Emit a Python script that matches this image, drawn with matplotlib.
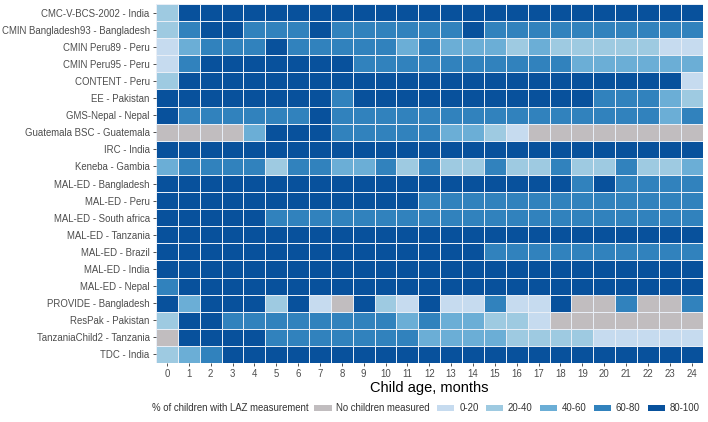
import matplotlib
matplotlib.use("Agg")
import matplotlib.pyplot as plt
import numpy as np
from matplotlib.colors import ListedColormap, BoundaryNorm
from matplotlib.patches import Patch

plt.rcParams['font.family'] = ['Liberation Sans', 'DejaVu Sans']

studies = [
    "CMC-V-BCS-2002 - India",
    "CMIN Bangladesh93 - Bangladesh",
    "CMIN Peru89 - Peru",
    "CMIN Peru95 - Peru",
    "CONTENT - Peru",
    "EE - Pakistan",
    "GMS-Nepal - Nepal",
    "Guatemala BSC - Guatemala",
    "IRC - India",
    "Keneba - Gambia",
    "MAL-ED - Bangladesh",
    "MAL-ED - Peru",
    "MAL-ED - South africa",
    "MAL-ED - Tanzania",
    "MAL-ED - Brazil",
    "MAL-ED - India",
    "MAL-ED - Nepal",
    "PROVIDE - Bangladesh",
    "ResPak - Pakistan",
    "TanzaniaChild2 - Tanzania",
    "TDC - India",
]
ages = list(range(25))

# 0 = none measured, 1 = 0-20, 2 = 20-40, 3 = 40-60, 4 = 60-80, 5 = 80-100
bin_labels = ["No children measured", "0-20", "20-40", "40-60", "60-80", "80-100"]
bin_colors = ["#c1bdbf", "#c6dbef", "#9ecae1", "#6baed6", "#3182bd", "#08519c"]

laz_bins = [
    [2, 5, 5, 5, 5, 5, 5, 5, 5, 5, 5, 5, 5, 5, 5, 5, 5, 5, 5, 5, 5, 5, 5, 5, 5],
    [2, 4, 5, 5, 4, 4, 4, 5, 4, 4, 4, 4, 4, 4, 5, 4, 4, 4, 4, 4, 4, 4, 4, 4, 4],
    [1, 3, 4, 4, 4, 5, 4, 4, 4, 4, 4, 3, 4, 3, 3, 3, 2, 3, 2, 2, 2, 2, 2, 1, 1],
    [1, 4, 5, 5, 5, 5, 5, 5, 5, 4, 4, 4, 4, 4, 4, 4, 4, 4, 4, 3, 3, 3, 3, 3, 3],
    [2, 5, 5, 5, 5, 5, 5, 5, 5, 5, 5, 5, 5, 5, 5, 5, 5, 5, 5, 5, 5, 5, 5, 5, 1],
    [5, 5, 5, 5, 5, 5, 5, 5, 4, 5, 5, 5, 5, 5, 5, 5, 5, 5, 5, 5, 4, 4, 4, 3, 2],
    [5, 4, 4, 4, 4, 4, 4, 5, 4, 4, 4, 4, 4, 4, 4, 4, 4, 4, 4, 4, 4, 4, 4, 3, 4],
    [0, 0, 0, 0, 3, 5, 5, 5, 4, 4, 4, 4, 4, 3, 3, 2, 1, 0, 0, 0, 0, 0, 0, 0, 0],
    [5, 5, 5, 5, 5, 5, 5, 5, 5, 5, 5, 5, 5, 5, 5, 5, 5, 5, 5, 5, 5, 5, 5, 5, 5],
    [3, 4, 4, 4, 4, 2, 4, 4, 3, 3, 4, 2, 4, 2, 2, 4, 2, 2, 4, 2, 2, 4, 2, 2, 3],
    [5, 5, 5, 5, 5, 5, 5, 5, 5, 5, 5, 5, 5, 5, 5, 5, 5, 5, 5, 4, 5, 4, 4, 4, 4],
    [5, 5, 5, 5, 5, 5, 5, 5, 5, 5, 5, 5, 4, 4, 4, 4, 4, 4, 4, 4, 4, 4, 4, 4, 4],
    [5, 5, 5, 5, 5, 4, 4, 4, 4, 4, 4, 4, 4, 4, 4, 4, 4, 4, 4, 4, 4, 4, 4, 4, 4],
    [5, 5, 5, 5, 5, 5, 5, 5, 5, 5, 5, 5, 5, 5, 5, 5, 5, 5, 5, 5, 5, 5, 5, 5, 5],
    [5, 5, 5, 5, 5, 5, 5, 5, 5, 5, 5, 5, 5, 5, 5, 4, 4, 4, 4, 4, 4, 4, 4, 4, 4],
    [5, 5, 5, 5, 5, 5, 5, 5, 5, 5, 5, 5, 5, 5, 5, 5, 5, 5, 5, 5, 5, 5, 5, 5, 5],
    [4, 5, 5, 5, 5, 5, 5, 5, 5, 5, 5, 5, 5, 5, 5, 5, 5, 5, 5, 5, 5, 5, 5, 5, 5],
    [5, 3, 5, 5, 5, 2, 5, 1, 0, 5, 2, 1, 5, 1, 1, 4, 1, 1, 5, 0, 0, 4, 0, 0, 4],
    [2, 5, 5, 4, 4, 4, 4, 4, 4, 4, 4, 3, 4, 3, 3, 2, 2, 1, 0, 0, 0, 0, 0, 0, 0],
    [0, 5, 5, 5, 5, 4, 4, 4, 4, 4, 4, 4, 3, 3, 3, 3, 2, 2, 2, 2, 1, 1, 1, 1, 1],
    [2, 3, 4, 5, 5, 5, 5, 5, 5, 5, 5, 5, 5, 5, 5, 5, 5, 5, 5, 5, 5, 5, 5, 5, 5],
]

FS = 6.9


def main() -> None:
    grid = np.array(laz_bins)
    cmap = ListedColormap(bin_colors)
    norm = BoundaryNorm(np.arange(-0.5, len(bin_colors) + 0.5), cmap.N)

    fig = plt.figure(figsize=(7.08, 4.22), dpi=100)
    ax = fig.add_axes([0.2203, 0.1398, 0.7721, 0.8507])

    x_edges = np.arange(len(ages) + 1) - 0.5
    y_edges = np.arange(len(studies) + 1) - 0.5
    ax.pcolormesh(x_edges, y_edges, grid, cmap=cmap, norm=norm,
                  edgecolors="#e8eef6", linewidth=0.7)

    ax.set_xlim(-0.5, len(ages) - 0.5)
    ax.set_ylim(len(studies) - 0.5, -0.5)
    ax.set_xticks(ages)
    ax.set_xticklabels([str(a) for a in ages])
    ax.set_yticks(range(len(studies)))
    ax.set_yticklabels(studies)
    for s in ax.spines.values():
        s.set_visible(False)
    ax.tick_params(axis="both", length=2.5, width=0.6, color="#333333",
                   labelcolor="#4d4d4d", labelsize=FS, pad=2)
    ax.set_xlabel("Child age, months", fontsize=10.5, color="black", labelpad=1)

    # Legend along the bottom: title text, then the keys right after it
    title = fig.text(0.2147, 0.033, "% of children with LAZ measurement",
                     fontsize=FS, color="#333333", ha="left", va="center")
    renderer = fig.canvas.get_renderer()
    bb = title.get_window_extent(renderer).transformed(fig.transFigure.inverted())

    handles = [Patch(facecolor=c, edgecolor="none", label=l)
               for c, l in zip(bin_colors, bin_labels)]
    fig.legend(handles=handles, loc="center left",
               bbox_to_anchor=(bb.x1 + 0.008, 0.033), borderaxespad=0,
               borderpad=0, ncol=6, frameon=False, fontsize=FS,
               handlelength=1.8, handleheight=0.6, handletextpad=0.5,
               columnspacing=0.75, labelcolor="#333333")

    fig.savefig("out.png", dpi=100)


if __name__ == "__main__":
    main()
